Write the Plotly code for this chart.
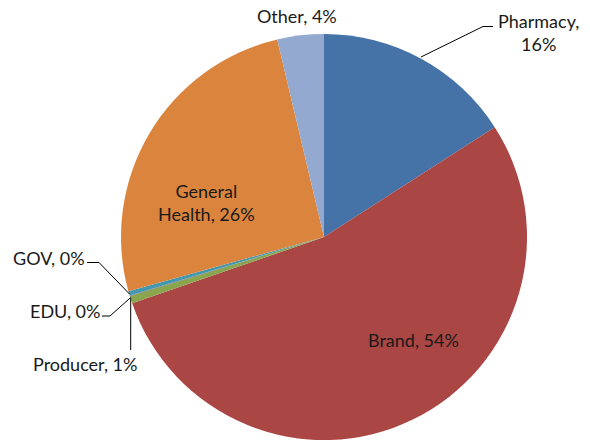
import plotly.graph_objects as go

# Data
categories = ["Pharmacy", "Brand", "Producer", "EDU", "GOV", "General Health", "Other"]
values = [15.9, 53.8, 0.6, 0.05, 0.35, 25.6, 3.7]
colors = ["#4572A7", "#AA4643", "#89A54E", "#71588F", "#4198AF", "#DB843D", "#93A9CF"]

W, H = 590, 443
cx, cy, r = 324, 237, 203

def px(x):
    return x / W

def py(y):
    return 1 - y / H

fig = go.Figure(go.Pie(
    labels=categories,
    values=values,
    sort=False,
    direction="clockwise",
    rotation=0,
    textinfo="none",
    hoverinfo="label+percent",
    marker=dict(colors=colors, line=dict(width=0)),
    domain=dict(x=[px(cx - r), px(cx + r)], y=[py(cy + r), py(cy - r)]),
    showlegend=False,
))

total = sum(values)
pct = {c: round(v / total * 100) for c, v in zip(categories, values)}

def lab(c, sep=", "):
    return f"{c}{sep}{pct[c]}%"

label_specs = [
    ("Pharmacy", f"Pharmacy,<br>{pct['Pharmacy']}%", 538, 32),
    ("Brand", lab("Brand"), 413, 340),
    ("Producer", lab("Producer"), 85, 364),
    ("EDU", lab("EDU"), 65, 311),
    ("GOV", lab("GOV"), 49, 258),
    ("General Health", f"General<br>Health, {pct['General Health']}%", 206, 202),
    ("Other", lab("Other"), 297, 16),
]

annotations = []
for c, text, x, y in label_specs:
    annotations.append(dict(
        x=px(x), y=py(y), xref="paper", yref="paper",
        text=text, showarrow=False, xanchor="center", yanchor="middle",
        align="center",
        font=dict(family="Lato, 'Open Sans', sans-serif", size=18, color="#1a1a1a"),
    ))

leaders = [
    [(421, 57), (483, 26.5), (493, 26.5)],
    [(87, 262.5), (99, 262.5), (129.5, 294)],
    [(102, 316), (110, 316), (130.7, 297.5)],
    [(130.7, 298), (130.7, 350)],
]
shapes = []
for pts in leaders:
    path = "M " + " L ".join(f"{px(x)},{py(y)}" for x, y in pts)
    shapes.append(dict(type="path", path=path, xref="paper", yref="paper",
                       line=dict(color="black", width=1)))

fig.update_layout(
    width=W, height=H,
    margin=dict(l=0, r=0, t=0, b=0),
    paper_bgcolor="white",
    plot_bgcolor="white",
    annotations=annotations,
    shapes=shapes,
)

fig.write_html("out.html", config={"displayModeBar": False},
               post_script="document.body.style.margin='0';")
